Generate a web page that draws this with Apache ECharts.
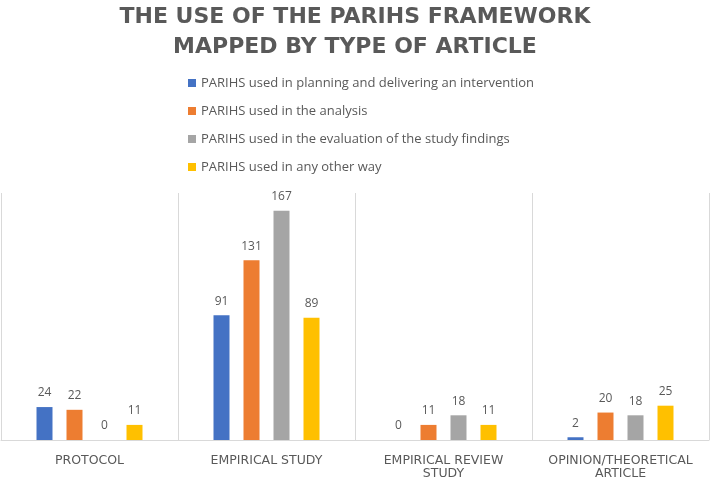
<!DOCTYPE html>
<html>
<head>
<meta charset="utf-8">
<script src="https://cdn.jsdelivr.net/npm/echarts@6/dist/echarts.min.js"></script>
<style>
  html, body { margin: 0; padding: 0; background: #fff; }
  #chart { width: 710px; height: 478px; }
</style>
</head>
<body>
<div id="chart"></div>
<script>
const titleText = 'THE USE OF THE PARIHS FRAMEWORK\nMAPPED BY TYPE OF ARTICLE'
const categories = ['PROTOCOL', 'EMPIRICAL STUDY', 'EMPIRICAL REVIEW\nSTUDY', 'OPINION/THEORETICAL\nARTICLE']
const seriesNames = [
  'PARIHS used in planning and delivering an intervention',
  'PARIHS used in the analysis',
  'PARIHS used in the evaluation of the study findings',
  'PARIHS used in any other way'
]
const planningValues = [24, 91, 0, 2]
const analysisValues = [22, 131, 11, 20]
const evaluationValues = [0, 167, 18, 18]
const otherValues = [11, 89, 11, 25]
const seriesColors = ['#4472C4', '#ED7D31', '#A5A5A5', '#FFC000']

const chart = echarts.init(document.getElementById('chart'))
const textGray = '#595959'

const valueSets = [planningValues, analysisValues, evaluationValues, otherValues]

const option = {
  animation: false,
  title: {
    text: titleText,
    left: 'center',
    top: -3,
    textStyle: {
      fontFamily: 'DejaVu Sans',
      fontWeight: 'bold',
      fontSize: 22,
      lineHeight: 30,
      color: textGray
    }
  },
  legend: {
    orient: 'vertical',
    left: 183,
    top: 71,
    itemWidth: 8,
    itemHeight: 8,
    itemGap: 14,
    icon: 'rect',
    data: seriesNames,
    textStyle: {
      fontFamily: 'Open Sans',
      fontSize: 13,
      lineHeight: 14,
      color: textGray
    }
  },
  grid: {
    left: 1,
    right: 1,
    top: 193,
    bottom: 38,
    outerBoundsMode: 'none'
  },
  xAxis: {
    type: 'category',
    data: categories,
    axisLine: { lineStyle: { color: '#D9D9D9' } },
    axisTick: { show: false },
    splitLine: { show: true, interval: 0, lineStyle: { color: '#D9D9D9' } },
    axisLabel: {
      interval: 0,
      margin: 14,
      fontFamily: 'DejaVu Sans',
      fontSize: 12.5,
      lineHeight: 13,
      color: textGray
    }
  },
  yAxis: {
    type: 'value',
    min: 0,
    max: 180,
    show: false,
    splitLine: { show: false }
  },
  series: seriesNames.map((name, i) => ({
    name,
    type: 'bar',
    data: valueSets[i],
    barWidth: 16,
    barGap: '87.5%',
    itemStyle: { color: seriesColors[i] },
    label: {
      show: true,
      position: 'top',
      distance: 8,
      fontFamily: 'Open Sans',
      fontSize: 12,
      color: textGray
    }
  }))
}

chart.setOption(option)
</script>
</body>
</html>
